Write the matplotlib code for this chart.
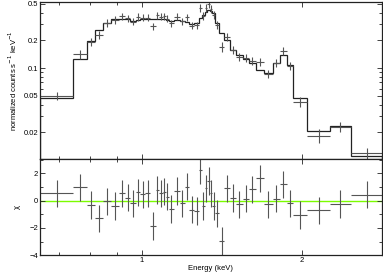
import numpy as np
import matplotlib
matplotlib.use('Agg')
import matplotlib.pyplot as plt
from matplotlib.ticker import FixedLocator, MultipleLocator, NullFormatter, LogLocator

# channel bin edges (keV)
edges = [0.644, 0.744, 0.788, 0.816, 0.847, 0.876, 0.906, 0.931, 0.952, 0.974,
         0.994, 1.014, 1.038, 1.062, 1.080, 1.095, 1.109, 1.124, 1.150, 1.180,
         1.206, 1.229, 1.255, 1.281, 1.299, 1.314, 1.329, 1.343, 1.358, 1.376,
         1.400, 1.431, 1.464, 1.503, 1.548, 1.592, 1.639, 1.696, 1.762, 1.821,
         1.874, 1.928, 2.047, 2.259, 2.470, 2.829]

# normalized counts s^-1 keV^-1
data = [0.0500, 0.1409, 0.1932, 0.2284, 0.3107, 0.3350, 0.3674, 0.3469, 0.3202, 0.3611,
        0.3539, 0.3539, 0.2861, 0.3768, 0.3630, 0.3674, 0.3451, 0.3083, 0.3630, 0.3243,
        0.3583, 0.2897, 0.2933, 0.4490, 0.3674, 0.4490, 0.4963, 0.4433, 0.3816, 0.2933,
        0.1704, 0.2200, 0.1589, 0.1327, 0.1290, 0.1207, 0.1162, 0.0861, 0.1142, 0.1542,
        0.1059, 0.0430, 0.0185, 0.0230, 0.0118]
rel_err = [0.10, 0.11, 0.10, 0.10, 0.09, 0.09, 0.09, 0.09, 0.09, 0.09,
           0.09, 0.09, 0.09, 0.09, 0.09, 0.09, 0.09, 0.09, 0.09, 0.09,
           0.09, 0.09, 0.09, 0.10, 0.10, 0.10, 0.10, 0.10, 0.10, 0.10,
           0.12, 0.10, 0.10, 0.10, 0.10, 0.10, 0.10, 0.10, 0.10, 0.10,
           0.10, 0.12, 0.17, 0.12, 0.15]
model = [0.0469, 0.1243, 0.1980, 0.2588, 0.3061, 0.3383, 0.3451, 0.3408, 0.3243, 0.3323,
         0.3383, 0.3383, 0.3383, 0.3383, 0.3383, 0.3383, 0.3366, 0.3282, 0.3366, 0.3282,
         0.3202, 0.3046, 0.3124, 0.3496, 0.3816, 0.4113, 0.4270, 0.4217, 0.3932, 0.3061,
         0.2383, 0.2015, 0.1569, 0.1384, 0.1268, 0.1133, 0.0951, 0.0889, 0.1125, 0.1384,
         0.1078, 0.0478, 0.0207, 0.0234, 0.0111]
# residuals (chi)
chi = [0.54, 0.98, -0.31, -1.29, -0.05, -0.39, 0.54, 0.22, -0.19, 0.61,
       0.47, 0.54, -1.85, 0.78, 0.54, 0.66, 0.29, -0.61, 0.71, -0.20,
       1.03, -0.65, -0.75, 2.25, -0.40, 0.90, 1.44, 0.54, -0.40, -0.92,
       -2.95, 0.91, 0.20, -0.26, 0.15, 0.84, 1.64, -0.26, 0.15, 1.20,
       -0.20, -1.05, -0.70, -0.25, 0.45]

edges = np.array(edges)
data = np.array(data)
err = data * np.array(rel_err)
cen = 0.5 * (edges[:-1] + edges[1:])
xerr = [cen - edges[:-1], edges[1:] - cen]

plt.rcParams['font.family'] = ['Liberation Sans', 'DejaVu Sans']
plt.rcParams['font.size'] = 5.5

fig = plt.figure(figsize=(3.83, 2.74), dpi=100)
ax1 = fig.add_axes([0.1044, 0.4186, 0.8927, 0.5759])
ax2 = fig.add_axes([0.1044, 0.0682, 0.8927, 0.3504], sharex=ax1)

dcol = '#555555'
ax1.errorbar(cen, data, xerr=xerr, yerr=err, fmt='none', ecolor=dcol, elinewidth=0.8)
ax1.stairs(model, edges, color='#222222', lw=0.9)
ax1.set_yscale('log')
ax1.set_xscale('log')
ax1.set_xlim(edges[0], edges[-1])
ax1.set_ylim(0.0102, 0.53)
ax1.yaxis.set_major_locator(FixedLocator([0.02, 0.05, 0.1, 0.2, 0.5]))
ax1.set_yticklabels(['0.02', '0.05', '0.1', '0.2', '0.5'])
ax1.yaxis.set_minor_locator(LogLocator(subs=np.arange(2, 10)))
ax1.yaxis.set_minor_formatter(NullFormatter())
ax1.set_ylabel('normalized counts s$^{-1}$ keV$^{-1}$', labelpad=3)
ax1.tick_params(labelbottom=False)

ax2.axhline(0, color='#7cfc00', lw=1.0, zorder=1)
ax2.errorbar(cen, chi, xerr=xerr, yerr=1, fmt='none', ecolor=dcol, elinewidth=0.8, zorder=2)
ax2.set_ylim(-4, 3.03)
ax2.yaxis.set_major_locator(MultipleLocator(2))
ax2.yaxis.set_minor_locator(MultipleLocator(1))
ax2.set_ylabel('χ', labelpad=6)
ax2.set_xlabel('Energy (keV)', labelpad=0.5)
ax2.xaxis.set_major_locator(FixedLocator([1, 2]))
ax2.xaxis.set_minor_locator(FixedLocator([0.7, 0.8, 0.9]))
ax2.set_xticklabels(['1', '2'])
ax2.xaxis.set_minor_formatter(NullFormatter())

for ax in (ax1, ax2):
    for s in ax.spines.values():
        s.set_linewidth(0.9)
        s.set_color('#222222')
    ax.tick_params(which='both', direction='in', top=True, right=True,
                   width=0.6, colors='#222222', labelcolor='black', pad=1.5)
    ax.tick_params(which='major', length=3.5)
    ax.tick_params(which='minor', length=2)

fig.savefig('out.png', dpi=100)
